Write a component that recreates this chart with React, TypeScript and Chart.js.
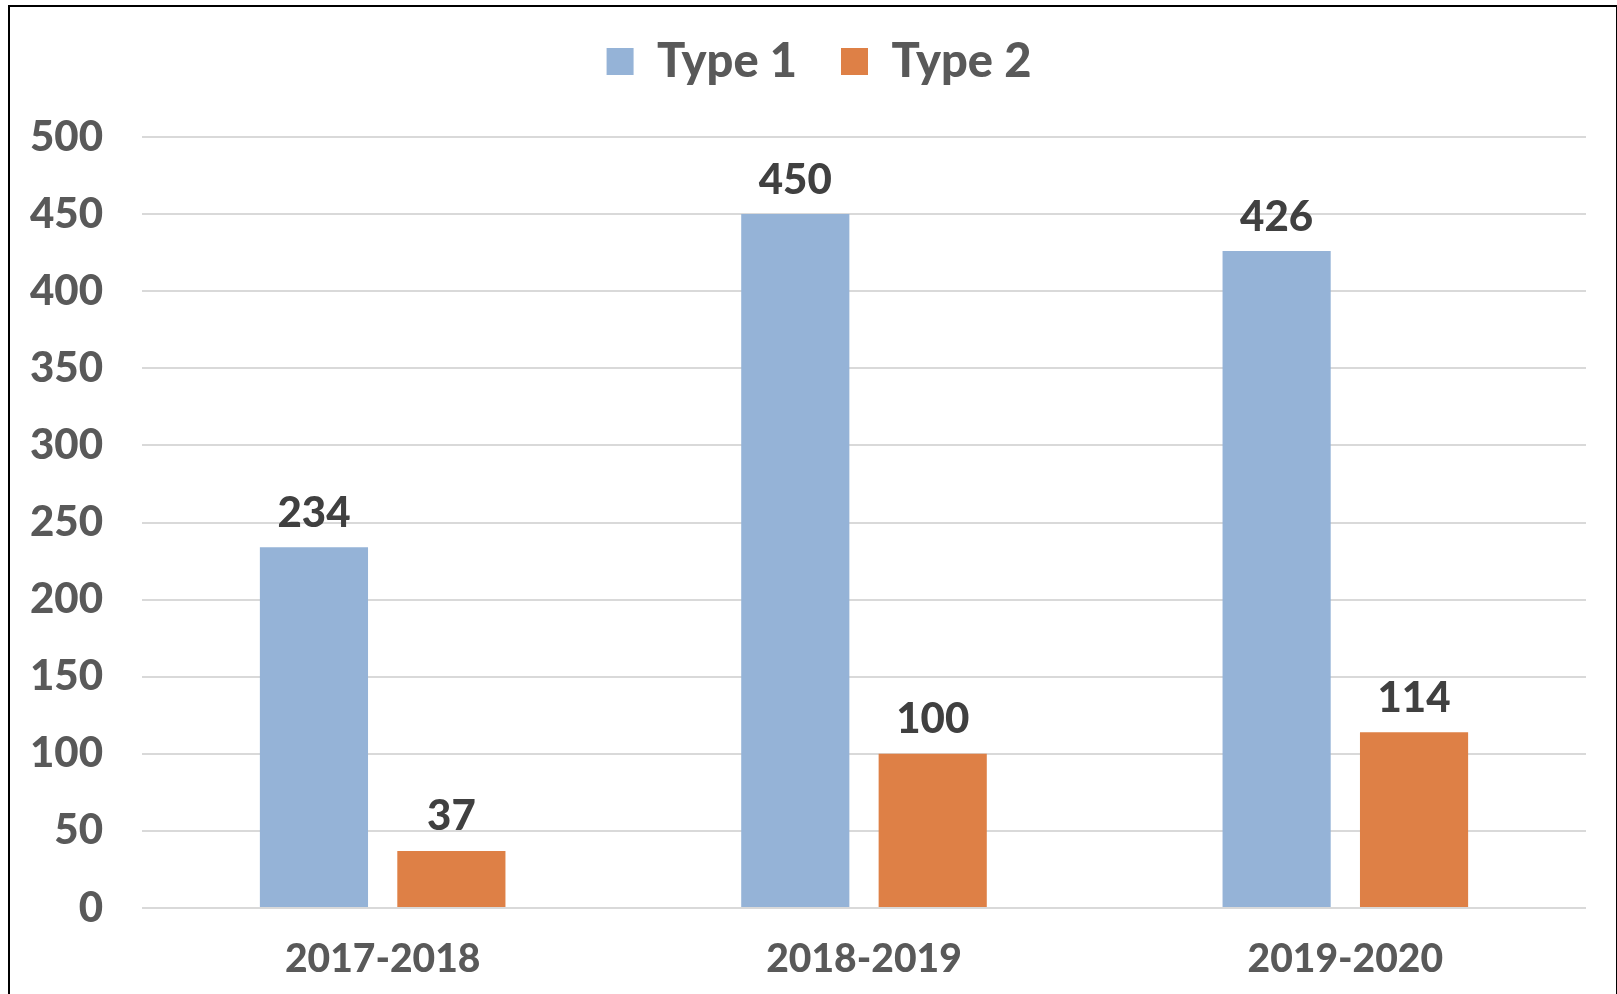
import React, { useEffect, useRef } from "react";
import { Chart, registerables } from "chart.js";

Chart.register(...registerables);

const categories = ["2017-2018", "2018-2019", "2019-2020"];
const type1Values = [234, 450, 426];
const type2Values = [37, 100, 114];
const seriesNames = ["Type 1", "Type 2"];
const seriesColors = ["#95B3D7", "#DE8046"];
const yTicks = [0, 50, 100, 150, 200, 250, 300, 350, 400, 450, 500];

const FONT = "Lato, 'Open Sans', sans-serif";
const WEIGHT = "900";
const LEGEND_SHIFT = 26;

const dataLabelPlugin = {
  id: "dataLabels",
  afterDatasetsDraw(chart: any) {
    const ctx = chart.ctx;
    ctx.save();
    ctx.font = `${WEIGHT} 42px ${FONT}`;
    ctx.fillStyle = "#404040";
    ctx.textAlign = "center";
    ctx.textBaseline = "bottom";
    chart.data.datasets.forEach((ds: any, i: number) => {
      const meta = chart.getDatasetMeta(i);
      meta.data.forEach((bar: any, j: number) => {
        ctx.fillText(String(ds.data[j]), bar.x, bar.y - 13);
      });
    });
    ctx.restore();
  },
};

const legendShiftPlugin = {
  id: "legendShift",
  afterLayout(chart: any) {
    const l = chart.legend;
    if (l) {
      l.left += LEGEND_SHIFT;
      l.right += LEGEND_SHIFT;
    }
  },
};

export default function App() {
  const ref = useRef<HTMLCanvasElement | null>(null);
  useEffect(() => {
    if (!ref.current) return;
    const chart = new Chart(ref.current, {
      type: "bar",
      data: {
        labels: categories,
        datasets: [
          {
            label: seriesNames[0],
            data: type1Values,
            backgroundColor: seriesColors[0],
            categoryPercentage: 0.571,
            barPercentage: 0.787,
          },
          {
            label: seriesNames[1],
            data: type2Values,
            backgroundColor: seriesColors[1],
            categoryPercentage: 0.571,
            barPercentage: 0.787,
          },
        ],
      },
      options: {
        animation: false,
        responsive: false,
        maintainAspectRatio: false,
        layout: { padding: { top: -6, right: 31, bottom: 0, left: 0 } },
        plugins: {
          legend: {
            position: "top",
            weight: 3000,
            labels: {
              boxWidth: 27,
              boxHeight: 27,
              padding: 44,
              color: "#595959",
              font: { family: FONT, size: 47, weight: WEIGHT },
            },
          } as any,
          title: {
            display: true,
            text: "",
            font: { size: 10 },
            padding: { top: 0, bottom: 30 },
          },
          tooltip: { enabled: false },
        },
        scales: {
          x: {
            grid: { display: false, drawTicks: false },
            border: { display: false },
            ticks: {
              color: "#595959",
              padding: 28,
              font: { family: FONT, size: 39, weight: WEIGHT },
            },
            afterFit: (s: any) => {
              s.height = 994 - 908;
            },
          },
          y: {
            min: 0,
            max: 500,
            afterBuildTicks: (s: any) => {
              s.ticks = yTicks.map((v) => ({ value: v }));
            },
            grid: { color: "#D9D9D9", lineWidth: 2, drawTicks: false },
            border: { display: false },
            ticks: {
              color: "#595959",
              padding: 39,
              font: { family: FONT, size: 42, weight: WEIGHT },
            },
            afterFit: (s: any) => {
              s.width = 142;
            },
          },
        },
      },
      plugins: [dataLabelPlugin, legendShiftPlugin],
    });
    return () => chart.destroy();
  }, []);

  return (
    <div
      style={{
        position: "fixed",
        left: 0,
        top: 0,
        width: 1617,
        height: 994,
        background: "#fff",
        overflow: "hidden",
      }}
    >
      <canvas ref={ref} width={1617} height={994} style={{ position: "absolute", left: 0, top: 0 }} />
      <div
        style={{
          position: "absolute",
          left: 8,
          top: 5,
          width: 1606,
          height: 1000,
          border: "2px solid #000",
          pointerEvents: "none",
        }}
      />
    </div>
  );
}
